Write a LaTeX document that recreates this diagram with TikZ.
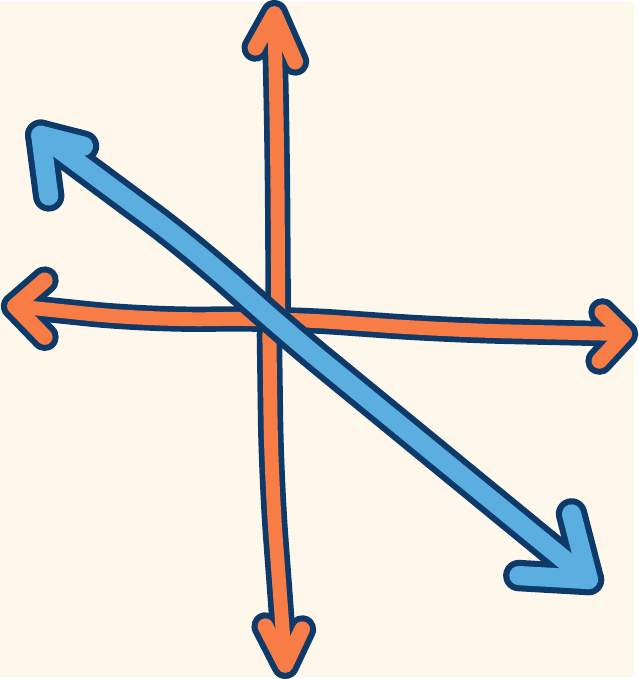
\documentclass[tikz,border=0pt]{standalone}
\usetikzlibrary{positioning}
\definecolor{paper}{HTML}{FDF8EB}
\definecolor{navy}{HTML}{0E3A6A}
\definecolor{carrot}{HTML}{F87C45}
\definecolor{sky}{HTML}{5BAEE0}

\begin{document}
\begin{tikzpicture}[x=0.02cm,y=-0.02cm,line cap=round,line join=round,
  shaft/.style={line width=#1,rounded corners=1.2cm},
  head/.style={line width=#1}]
  \fill[paper] (0,0) rectangle (638,679);
  % orange axes
  \coordinate (vt) at (276,12);  \coordinate (vtl) at (257,46); \coordinate (vtr) at (297,60);
  \coordinate (vb) at (287,667); \coordinate (vbl) at (267,628); \coordinate (vbr) at (304,631);
  \coordinate (hl) at (15,306);  \coordinate (hlu) at (45,280); \coordinate (hld) at (45,337);
  \coordinate (hr) at (628,334); \coordinate (hru) at (606,312); \coordinate (hrd) at (603,361);
  \coordinate (c) at (280,318);  \coordinate (cl) at (271,334);
  \foreach \w/\h/\col in {14.5pt/16pt/navy,8pt/9pt/carrot}{
    \draw[shaft=\w,\col] (vt) -- (279,150) -- (c);
    \draw[shaft=\w,\col] (cl) -- (273,480) -- (vb);
    \draw[shaft=\w,\col] (hl) -- (150,320) -- (c) -- (450,330) -- (hr);
    \draw[head=\h,\col] (vtl) -- (vt) -- (vtr);
    \draw[head=\h,\col] (vbl) -- (vb) -- (vbr);
    \draw[head=\h,\col] (hlu) -- (hl) -- (hld);
    \draw[head=\h,\col] (hru) -- (hr) -- (hrd);
  }
  % blue diagonal
  \coordinate (bt) at (41,134);  \coordinate (btu) at (84,145); \coordinate (btd) at (49,195);
  \coordinate (br) at (592,581); \coordinate (bru) at (575,515); \coordinate (brd) at (522,577);
  \foreach \w/\h/\col in {18pt/18pt/navy,11pt/11pt/sky}{
    \draw[shaft=\w,\col] (bt) -- (200,252) -- (276,322) -- (br);
    \draw[head=\h,\col] (btu) -- (bt) -- (btd);
    \draw[head=\h,\col] (bru) -- (br) -- (brd);
  }
\end{tikzpicture}
\end{document}
